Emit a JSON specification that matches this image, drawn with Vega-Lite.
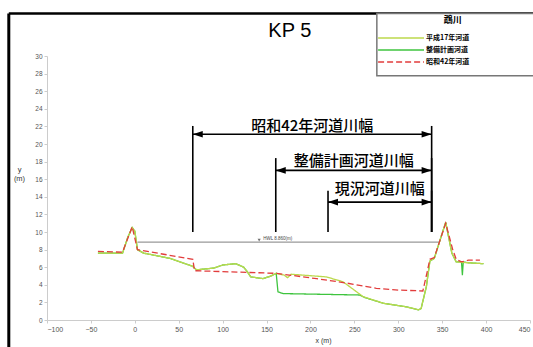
{
  "$schema": "https://vega.github.io/schema/vega-lite/v6.json",
  "width": 483,
  "height": 264,
  "autosize": {"type": "none"},
  "padding": {"left": 47, "top": 56, "right": 3, "bottom": 27},
  "background": "white",
  "config": {
    "view": {"stroke": null},
    "font": "Liberation Sans",
    "axis": {"labelOverlap": false, "labelSeparation": -30, "grid": false, "domainColor": "#ccc", "tickColor": "#ccc", "tickSize": 3, "labelPadding": 2, "labelColor": "#555", "titleFontWeight": "normal", "titleColor": "#333"},
    "axisY": {"labelOverlap": false, "labelSeparation": -30, "tickCount": 16}
  },
  "datasets": {
    "profiles": [
      {"series": "昭和42年河道", "x": -42, "y": 7.8},
      {"series": "昭和42年河道", "x": -14, "y": 7.7},
      {"series": "昭和42年河道", "x": -3, "y": 10.6},
      {"series": "昭和42年河道", "x": 3, "y": 8.0},
      {"series": "昭和42年河道", "x": 8, "y": 7.9},
      {"series": "昭和42年河道", "x": 66, "y": 6.9},
      {"series": "昭和42年河道", "x": 68, "y": 5.6},
      {"series": "昭和42年河道", "x": 100, "y": 5.5},
      {"series": "昭和42年河道", "x": 131, "y": 5.4},
      {"series": "昭和42年河道", "x": 161, "y": 5.3},
      {"series": "昭和42年河道", "x": 207, "y": 4.7},
      {"series": "昭和42年河道", "x": 241, "y": 4.2},
      {"series": "昭和42年河道", "x": 275, "y": 3.6},
      {"series": "昭和42年河道", "x": 300, "y": 3.4},
      {"series": "昭和42年河道", "x": 328, "y": 3.3},
      {"series": "昭和42年河道", "x": 333, "y": 5.5},
      {"series": "昭和42年河道", "x": 336, "y": 6.9},
      {"series": "昭和42年河道", "x": 341, "y": 7.1},
      {"series": "昭和42年河道", "x": 354, "y": 11.0},
      {"series": "昭和42年河道", "x": 362, "y": 8.0},
      {"series": "昭和42年河道", "x": 366, "y": 6.9},
      {"series": "昭和42年河道", "x": 372, "y": 6.6},
      {"series": "昭和42年河道", "x": 380, "y": 6.8},
      {"series": "昭和42年河道", "x": 393, "y": 6.8},

      {"series": "平成17年河道", "x": -42, "y": 7.6},
      {"series": "平成17年河道", "x": -14, "y": 7.6},
      {"series": "平成17年河道", "x": -8, "y": 9.4},
      {"series": "平成17年河道", "x": -3, "y": 10.5},
      {"series": "平成17年河道", "x": 0, "y": 10.1},
      {"series": "平成17年河道", "x": 3, "y": 8.0},
      {"series": "平成17年河道", "x": 10, "y": 7.6},
      {"series": "平成17年河道", "x": 40, "y": 7.0},
      {"series": "平成17年河道", "x": 66, "y": 6.1},
      {"series": "平成17年河道", "x": 70, "y": 5.7},
      {"series": "平成17年河道", "x": 90, "y": 5.9},
      {"series": "平成17年河道", "x": 100, "y": 6.25},
      {"series": "平成17年河道", "x": 115, "y": 6.4},
      {"series": "平成17年河道", "x": 124, "y": 6.0},
      {"series": "平成17年河道", "x": 128, "y": 5.5},
      {"series": "平成17年河道", "x": 132, "y": 4.9},
      {"series": "平成17年河道", "x": 146, "y": 4.7},
      {"series": "平成17年河道", "x": 155, "y": 5.0},
      {"series": "平成17年河道", "x": 161, "y": 5.3},
      {"series": "平成17年河道", "x": 170, "y": 5.1},
      {"series": "平成17年河道", "x": 174, "y": 4.8},
      {"series": "平成17年河道", "x": 178, "y": 5.2},
      {"series": "平成17年河道", "x": 218, "y": 4.9},
      {"series": "平成17年河道", "x": 237, "y": 4.35},
      {"series": "平成17年河道", "x": 260, "y": 2.65},
      {"series": "平成17年河道", "x": 283, "y": 1.9},
      {"series": "平成17年河道", "x": 309, "y": 1.5},
      {"series": "平成17年河道", "x": 323, "y": 1.15},
      {"series": "平成17年河道", "x": 326, "y": 1.3},
      {"series": "平成17年河道", "x": 332, "y": 3.8},
      {"series": "平成17年河道", "x": 336, "y": 6.7},
      {"series": "平成17年河道", "x": 341, "y": 7.0},
      {"series": "平成17年河道", "x": 354, "y": 11.1},
      {"series": "平成17年河道", "x": 361, "y": 7.6},
      {"series": "平成17年河道", "x": 366, "y": 6.6},
      {"series": "平成17年河道", "x": 380, "y": 6.5},
      {"series": "平成17年河道", "x": 397, "y": 6.4},

      {"series": "整備計画河道", "x": -42, "y": 7.6},
      {"series": "整備計画河道", "x": -14, "y": 7.6},
      {"series": "整備計画河道", "x": -8, "y": 9.4},
      {"series": "整備計画河道", "x": -3, "y": 10.5},
      {"series": "整備計画河道", "x": 0, "y": 10.1},
      {"series": "整備計画河道", "x": 3, "y": 8.0},
      {"series": "整備計画河道", "x": 10, "y": 7.6},
      {"series": "整備計画河道", "x": 40, "y": 7.0},
      {"series": "整備計画河道", "x": 66, "y": 6.1},
      {"series": "整備計画河道", "x": 70, "y": 5.7},
      {"series": "整備計画河道", "x": 90, "y": 5.9},
      {"series": "整備計画河道", "x": 100, "y": 6.25},
      {"series": "整備計画河道", "x": 115, "y": 6.4},
      {"series": "整備計画河道", "x": 124, "y": 6.0},
      {"series": "整備計画河道", "x": 128, "y": 5.5},
      {"series": "整備計画河道", "x": 132, "y": 4.9},
      {"series": "整備計画河道", "x": 146, "y": 4.7},
      {"series": "整備計画河道", "x": 155, "y": 5.0},
      {"series": "整備計画河道", "x": 161, "y": 5.3},
      {"series": "整備計画河道", "x": 163, "y": 3.2},
      {"series": "整備計画河道", "x": 169, "y": 3.0},
      {"series": "整備計画河道", "x": 256, "y": 2.84},
      {"series": "整備計画河道", "x": 262, "y": 2.55},
      {"series": "整備計画河道", "x": 283, "y": 1.9},
      {"series": "整備計画河道", "x": 309, "y": 1.5},
      {"series": "整備計画河道", "x": 323, "y": 1.15},
      {"series": "整備計画河道", "x": 326, "y": 1.3},
      {"series": "整備計画河道", "x": 332, "y": 3.8},
      {"series": "整備計画河道", "x": 336, "y": 6.7},
      {"series": "整備計画河道", "x": 341, "y": 7.0},
      {"series": "整備計画河道", "x": 354, "y": 11.1},
      {"series": "整備計画河道", "x": 361, "y": 7.6},
      {"series": "整備計画河道", "x": 366, "y": 6.6},
      {"series": "整備計画河道", "x": 372, "y": 6.6},
      {"series": "整備計画河道", "x": 373, "y": 5.1},
      {"series": "整備計画河道", "x": 374, "y": 6.6},
      {"series": "整備計画河道", "x": 380, "y": 6.5},
      {"series": "整備計画河道", "x": 397, "y": 6.4}
    ],
    "widths": [
      {"label": "昭和42年河道川幅", "left": 66, "right": 338, "arrow": 21.1, "top": 22.05, "base": 10.0, "mid": 202, "textY": 22.1},
      {"label": "整備計画河道川幅", "left": 160.5, "right": 338, "arrow": 17.0, "top": 18.4, "base": 10.0, "mid": 249.3, "textY": 18.1},
      {"label": "現況河道川幅", "left": 220, "right": 338, "arrow": 13.4, "top": 14.7, "base": 10.0, "mid": 279, "textY": 14.9}
    ],
    "hwl": [
      {"level": 8.86, "from": 3, "to": 347, "at": 141.6, "label": "HWL   8.860(m)"}
    ]
  },
  "layer": [
    {
      "data": {"values": [{}]},
      "mark": {"type": "rule", "color": "black", "strokeWidth": 3, "clip": false},
      "encoding": {
        "x": {"datum": -143.5, "type": "quantitative", "scale": {"domain": [-100, 450], "nice": false, "zero": false}},
        "y": {"datum": -3.5, "type": "quantitative", "scale": {"domain": [0, 30], "nice": false}},
        "y2": {"datum": 34.83}
      }
    },
    {
      "data": {"values": [{}]},
      "mark": {"type": "rule", "color": "black", "strokeWidth": 2.5, "clip": false},
      "encoding": {
        "x": {"datum": -143.5, "type": "quantitative"},
        "x2": {"datum": 470},
        "y": {"datum": 34.83, "type": "quantitative"}
      }
    },
    {
      "data": {"values": [{}]},
      "mark": {"type": "rect", "fill": "white", "stroke": "#777", "strokeWidth": 1.5, "clip": false},
      "encoding": {
        "x": {"datum": 275.6, "type": "quantitative"},
        "x2": {"datum": 470},
        "y": {"datum": 27.75, "type": "quantitative"},
        "y2": {"datum": 34.83}
      }
    },
    {
      "data": {"values": [{}]},
      "mark": {"type": "text", "font": "Noto Sans CJK JP", "fontWeight": "bold", "fontSize": 9, "color": "black", "clip": false},
      "encoding": {
        "x": {"datum": 362, "type": "quantitative"},
        "y": {"datum": 34.1, "type": "quantitative"},
        "text": {"value": "鵡川"}
      }
    },
    {
      "data": {"values": [{}]},
      "mark": {"type": "text", "font": "Liberation Sans", "fontSize": 20, "color": "black", "baseline": "middle", "clip": false},
      "encoding": {
        "x": {"datum": 176.5, "type": "quantitative"},
        "y": {"datum": 32.8, "type": "quantitative"},
        "text": {"value": "KP 5"}
      }
    },
    {
      "data": {"name": "hwl"},
      "mark": {"type": "rule", "color": "#999", "strokeWidth": 1.2},
      "encoding": {
        "x": {"field": "from", "type": "quantitative"},
        "x2": {"field": "to"},
        "y": {"field": "level", "type": "quantitative"}
      }
    },
    {
      "data": {"name": "hwl"},
      "mark": {"type": "point", "shape": "triangle-down", "filled": true, "color": "#333", "size": 10, "yOffset": -2},
      "encoding": {
        "x": {"field": "at", "type": "quantitative"},
        "y": {"field": "level", "type": "quantitative"}
      }
    },
    {
      "data": {"name": "hwl"},
      "mark": {"type": "text", "fontSize": 4.5, "align": "left", "baseline": "bottom", "color": "#444", "dx": 4, "dy": -1},
      "encoding": {
        "x": {"field": "at", "type": "quantitative"},
        "y": {"field": "level", "type": "quantitative"},
        "text": {"field": "label"}
      }
    },
    {
      "data": {"name": "profiles"},
      "transform": [{"filter": "datum.series === '整備計画河道'"}],
      "mark": {"type": "line", "strokeWidth": 1.3},
      "encoding": {
        "x": {"field": "x", "type": "quantitative", "title": "x (m)",
          "axis": {"values": [-100, -50, 0, 50, 100, 150, 200, 250, 300, 350, 400, 450], "labelOverlap": false, "labelFontSize": 7, "titleFontSize": 7, "titleX": 276, "titleY": 20, "titleBaseline": "middle"}},
        "y": {"field": "y", "type": "quantitative", "title": ["y", "(m)"],
          "axis": {"values": [0, 2, 4, 6, 8, 10, 12, 14, 16, 18, 20, 22, 24, 26, 28, 30], "labelOverlap": false, "labelFontSize": 6.5, "titleAngle": 0, "titleFontSize": 7.5, "titleX": -28, "titleY": 113, "titleAlign": "center", "titleBaseline": "middle"}},
        "order": {"field": "x", "type": "quantitative"},
        "color": {"field": "series", "type": "nominal",
          "scale": {"domain": ["平成17年河道", "整備計画河道", "昭和42年河道"], "range": ["#bcd94c", "#3ec43e", "#e23c3c"]},
          "legend": {"orient": "none", "legendX": 373, "legendY": -22, "title": null, "symbolType": "M-15.3,0L0,0", "symbolSize": 36, "symbolStrokeWidth": 1.5, "labelFont": "Noto Sans CJK JP", "labelFontSize": 7, "labelFontWeight": "bold", "labelColor": "black", "labelOffset": -2, "rowPadding": 5, "padding": 0}},
        "strokeDash": {"field": "series", "type": "nominal",
          "scale": {"domain": ["平成17年河道", "整備計画河道", "昭和42年河道"], "range": [[1, 0], [1, 0], [6, 3]]},
          "legend": {"orient": "none", "legendX": 373, "legendY": -22, "title": null, "symbolType": "M-15.3,0L0,0", "symbolSize": 36, "symbolStrokeWidth": 1.5, "labelFont": "Noto Sans CJK JP", "labelFontSize": 7, "labelFontWeight": "bold", "labelColor": "black", "labelOffset": -2, "rowPadding": 5, "padding": 0}}
      }
    },
    {
      "data": {"name": "profiles"},
      "transform": [{"filter": "datum.series === '平成17年河道'"}],
      "mark": {"type": "line", "strokeWidth": 1.3},
      "encoding": {
        "x": {"field": "x", "type": "quantitative"},
        "y": {"field": "y", "type": "quantitative"},
        "order": {"field": "x", "type": "quantitative"},
        "color": {"field": "series", "type": "nominal"},
        "strokeDash": {"field": "series", "type": "nominal"}
      }
    },
    {
      "data": {"name": "profiles"},
      "transform": [{"filter": "datum.series === '昭和42年河道'"}],
      "mark": {"type": "line", "strokeWidth": 1.3},
      "encoding": {
        "x": {"field": "x", "type": "quantitative"},
        "y": {"field": "y", "type": "quantitative"},
        "order": {"field": "x", "type": "quantitative"},
        "color": {"field": "series", "type": "nominal"},
        "strokeDash": {"field": "series", "type": "nominal"}
      }
    },
    {
      "data": {"name": "widths"},
      "mark": {"type": "rule", "color": "black", "strokeWidth": 1.6},
      "encoding": {
        "x": {"field": "left", "type": "quantitative"},
        "y": {"field": "base", "type": "quantitative"},
        "y2": {"field": "top"}
      }
    },
    {
      "data": {"name": "widths"},
      "mark": {"type": "rule", "color": "black", "strokeWidth": 1.6},
      "encoding": {
        "x": {"field": "right", "type": "quantitative"},
        "y": {"field": "base", "type": "quantitative"},
        "y2": {"field": "top"}
      }
    },
    {
      "data": {"name": "widths"},
      "mark": {"type": "rule", "color": "black", "strokeWidth": 1.6},
      "encoding": {
        "x": {"field": "left", "type": "quantitative"},
        "x2": {"field": "right"},
        "y": {"field": "arrow", "type": "quantitative"}
      }
    },
    {
      "data": {"name": "widths"},
      "mark": {"type": "point", "shape": "M0,0L2,-0.66L2,0.66Z", "filled": true, "color": "black", "opacity": 1, "size": 100, "strokeWidth": 0},
      "encoding": {
        "x": {"field": "left", "type": "quantitative"},
        "y": {"field": "arrow", "type": "quantitative"}
      }
    },
    {
      "data": {"name": "widths"},
      "mark": {"type": "point", "shape": "M0,0L-2,-0.66L-2,0.66Z", "filled": true, "color": "black", "opacity": 1, "size": 100, "strokeWidth": 0},
      "encoding": {
        "x": {"field": "right", "type": "quantitative"},
        "y": {"field": "arrow", "type": "quantitative"}
      }
    },
    {
      "data": {"name": "widths"},
      "mark": {"type": "text", "font": "Noto Sans CJK JP", "fontWeight": 500, "fontSize": 15, "color": "#000", "baseline": "middle"},
      "encoding": {
        "x": {"field": "mid", "type": "quantitative"},
        "y": {"field": "textY", "type": "quantitative"},
        "text": {"field": "label"}
      }
    }
  ]
}
